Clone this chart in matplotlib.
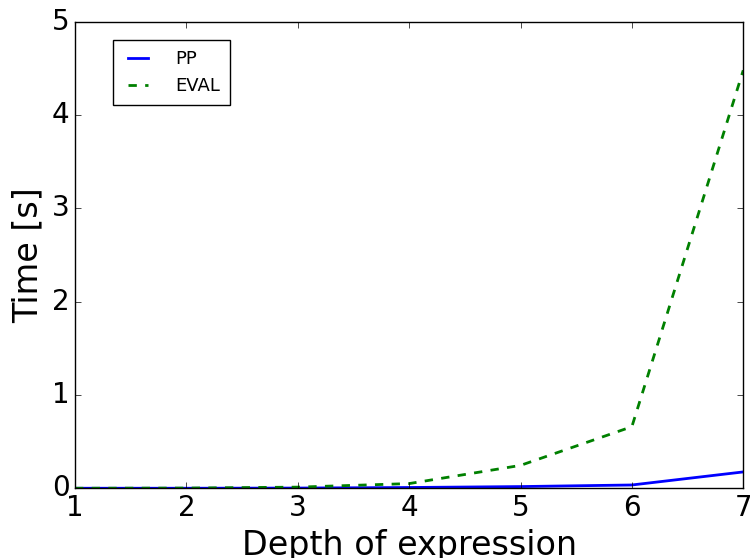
import matplotlib
matplotlib.use("Agg")
import matplotlib.pyplot as plt

depth = [1, 2, 3, 4, 5, 6, 7]
pp_time = [0.0, 0.0, 0.002, 0.008, 0.018, 0.035, 0.175]
eval_time = [0.0, 0.002, 0.012, 0.05, 0.245, 0.66, 4.48]

plt.style.use('classic')
fig = plt.figure(figsize=(7.5, 5.58), dpi=100, facecolor='white')
ax = fig.add_axes([0.1, 0.125, 0.891, 0.836])
ax.plot(depth, pp_time, color='b', linestyle='-', linewidth=2, label='PP')
ax.plot(depth, eval_time, color='g', linestyle='--', linewidth=2, label='EVAL')
ax.set_xlim(1, 7)
ax.set_ylim(0, 5)
ax.tick_params(labelsize=20)
ax.set_xlabel('Depth of expression', fontsize=24)
ax.set_ylabel('Time [s]', fontsize=24)
ax.legend(loc='upper left', bbox_to_anchor=(0.057, 0.96), borderaxespad=0,
          fontsize=13, handlelength=1.7, handletextpad=1.2, borderpad=0.55)
fig.savefig('out.png', dpi=100, facecolor='white')
